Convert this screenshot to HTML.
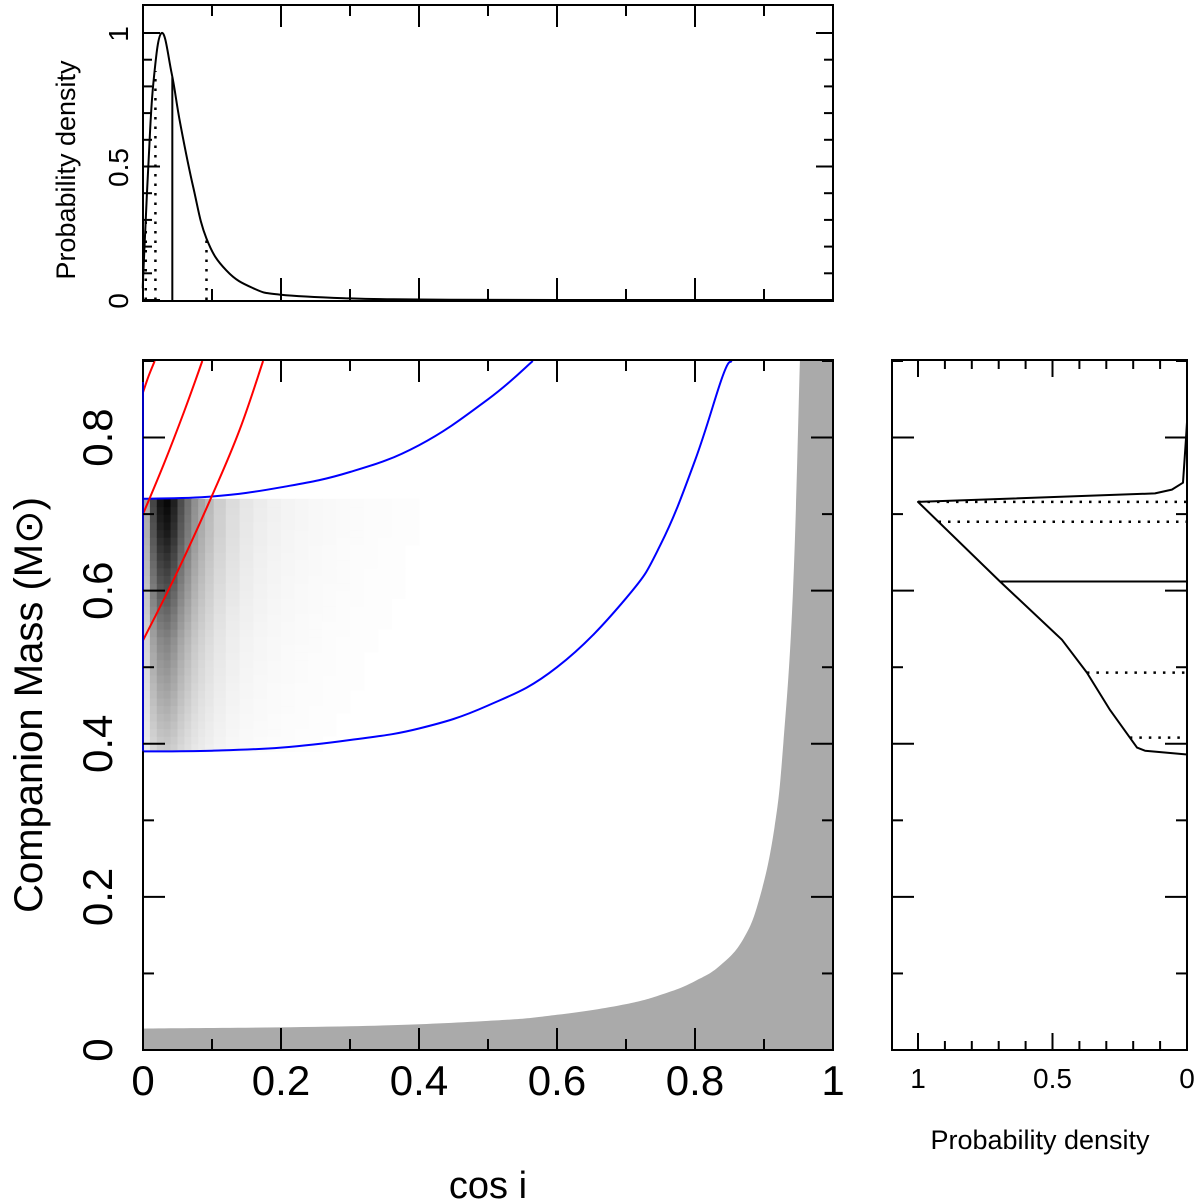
<!DOCTYPE html>
<html><head><meta charset="utf-8"><style>
body{margin:0;background:#fff}
svg{display:block;font-family:"Liberation Sans","DejaVu Sans",sans-serif}
</style></head><body>
<svg id="c" width="1200" height="1204" viewBox="0 0 1200 1204"></svg>
<script>
// ---- data ----
const topPdfC = [0,0.0005,0.0077,0.015,0.027,0.0415,0.054,0.073,0.092,0.121,0.16,0.2,0.3,0.4,0.6,1.0];
const topPdfD = [0.05,0.1,0.5,0.81,1.0,0.85,0.66,0.42,0.23,0.11,0.044,0.02,0.006,0.002,0,0];
const topMedian = 0.0425;
const topDotted = [0.004,0.018,0.092];
const sideMass = [0.386,0.391,0.395,0.444,0.493,0.536,0.612,0.716,0.727,0.732,0.741,0.797,0.82,0.9];
const sideDens = [0.0,0.156,0.186,0.286,0.372,0.465,0.695,1.0,0.119,0.056,0.015,0.004,0,0];
const sideMedian = 0.612;
const sideDotted = [0.716,0.69,0.493,0.408];
const blueLowC = [0,0.1,0.2,0.3,0.4,0.5,0.6,0.7,0.75,0.8,0.84,0.853];
const blueLowM = [0.39,0.391,0.395,0.405,0.42,0.45,0.50,0.59,0.66,0.77,0.88,0.9];
const blueUpC = [0,0.1,0.2,0.3,0.4,0.5,0.565];
const blueUpM = [0.72,0.723,0.735,0.755,0.79,0.85,0.9];
const red1C = [0,0.008,0.017], red1M = [0.859,0.88,0.9];
const red2C = [0,0.03,0.06,0.086], red2M = [0.70,0.765,0.835,0.9];
const red3C = [0,0.05,0.1,0.14,0.174], red3M = [0.535,0.625,0.724,0.81,0.9];
const greyC = [0,0.3,0.5,0.6,0.7,0.76,0.8,0.836,0.87,0.894,0.915,0.928,0.942,0.952];
const greyM = [0.028,0.031,0.038,0.046,0.06,0.075,0.09,0.11,0.145,0.2,0.29,0.4,0.6,0.9];
const xTickLabels = ["0","0.2","0.4","0.6","0.8","1"];
const yTickLabels = ["0","0.2","0.4","0.6","0.8"];
// heatmap profiles
const heatC = [0.005,0.015,0.025,0.035,0.045,0.055,0.065,0.075,0.085,0.095,0.11,0.13,0.15,0.17,0.19,0.21,0.23,0.25,0.27,0.29,0.31,0.33,0.35,0.37,0.39,0.41,0.43];
const heatCw = [0.35,0.75,0.95,1.0,0.9,0.72,0.58,0.45,0.36,0.28,0.2,0.14,0.1,0.075,0.058,0.046,0.037,0.03,0.025,0.02,0.016,0.013,0.011,0.009,0.007,0.005,0.004];
const heatM = [0.395,0.405,0.415,0.425,0.435,0.445,0.455,0.465,0.475,0.485,0.495,0.505,0.515,0.525,0.535,0.545,0.555,0.565,0.575,0.585,0.595,0.605,0.615,0.625,0.635,0.645,0.655,0.665,0.675,0.685,0.695,0.705,0.715];
const heatMw = [0.22,0.24,0.26,0.28,0.3,0.32,0.34,0.36,0.38,0.4,0.42,0.44,0.46,0.48,0.5,0.53,0.56,0.59,0.62,0.65,0.68,0.71,0.74,0.77,0.8,0.83,0.86,0.89,0.92,0.94,0.96,0.98,1.0];

// ---- geometry ----
const NS="http://www.w3.org/2000/svg", svg=document.getElementById('c');
const MX0=143,MX1=833,MY0=1050,MY1=361,MTOP=360;
const mx=c=>MX0+(MX1-MX0)*c, my=m=>MY0+(MY1-MY0)*m/0.9;
const TY0=300,TY1=33; const ty=d=>TY0+(TY1-TY0)*d;
const RX0=1187,RX1=918; const rx=d=>RX0+(RX1-RX0)*d;
function el(t,a,p){const e=document.createElementNS(NS,t);for(const k in a)e.setAttribute(k,a[k]);(p||svg).appendChild(e);return e;}
function smooth(xs,ys,fx,fy){
  const P=xs.map((v,i)=>[fx(v),fy(ys[i])]);
  let d=`M${P[0][0].toFixed(1)},${P[0][1].toFixed(1)}`;
  for(let i=0;i<P.length-1;i++){
    const p0=P[i-1]||P[i],p1=P[i],p2=P[i+1],p3=P[i+2]||P[i+1];
    const t=0.2;
    const c1=[p1[0]+(p2[0]-p0[0])*t,p1[1]+(p2[1]-p0[1])*t];
    const c2=[p2[0]-(p3[0]-p1[0])*t,p2[1]-(p3[1]-p1[1])*t];
    d+=` C${c1[0].toFixed(1)},${c1[1].toFixed(1)} ${c2[0].toFixed(1)},${c2[1].toFixed(1)} ${p2[0].toFixed(1)},${p2[1].toFixed(1)}`;
  }
  return d;
}
function interp(xs,ys,x){for(let i=1;i<xs.length;i++){if(x<=xs[i]){const t=(x-xs[i-1])/(xs[i]-xs[i-1]);return ys[i-1]+t*(ys[i]-ys[i-1]);}}return ys[ys.length-1];}

const clip=el('clipPath',{id:'mclip'},el('defs',{}));
el('rect',{x:MX0,y:MTOP,width:MX1-MX0,height:MY0-MTOP},clip);
const g=el('g',{'clip-path':'url(#mclip)'});



// grey region
const gp=el('path',{d:smooth(greyC,greyM,mx,my)+` L${mx(1)},${my(0.9)} L${mx(1)},${MY0} L${mx(0)},${MY0} Z`,fill:'#aaaaaa'},g);



// heatmap
const hg=el('g',{},g);


heatC.forEach((c,i)=>{
  const x0=i===0?0:(heatC[i-1]+c)/2, x1=i===heatC.length-1?c+0.01:(c+heatC[i+1])/2;
  heatM.forEach((m,j)=>{
    const v=heatCw[i]*heatMw[j];
    const lum=Math.round(255*(1-Math.min(1,v*0.97)));
    if(lum>=254)return;
    const r=el('rect',{x:mx(x0).toFixed(1),y:my(m+0.005).toFixed(1),width:(mx(x1)-mx(x0)+0.6).toFixed(1),height:(my(m-0.005)-my(m+0.005)+0.6).toFixed(1),fill:`rgb(${lum},${lum},${lum})`},hg);
    
    
  });
});

function line(xs,ys,col,name,parent,fx,fy){
  const p=el('path',{d:smooth(xs,ys,fx,fy),fill:'none',stroke:col,'stroke-width':2,'stroke-linejoin':'round'},parent);
  
  
  return p;
}
function pline(xs,ys,col,name,parent,fx,fy){
  const p=el('polyline',{points:xs.map((v,i)=>fx(v).toFixed(1)+','+fy(ys[i]).toFixed(1)).join(' '),fill:'none',stroke:col,'stroke-width':2,'stroke-linejoin':'round'},parent);
  
  
  return p;
}
line(blueLowC,blueLowM,'#0000ff','blue-curve-lower',g,mx,my);
line(blueUpC,blueUpM,'#0000ff','blue-curve-upper',g,mx,my);
line(red1C,red1M,'#ff0000','red-curve-1',g,mx,my);
line(red2C,red2M,'#ff0000','red-curve-2',g,mx,my);
line(red3C,red3M,'#ff0000','red-curve-3',g,mx,my);

// frames & ticks
function frame(x,y,w,h,name){const r=el('rect',{x,y,width:w,height:h,fill:'none',stroke:'#000','stroke-width':2});}
frame(MX0,MTOP,MX1-MX0,MY0-MTOP,'main-frame');
el('line',{x1:MX0,y1:MTOP,x2:MX0,y2:my(0.39),stroke:'#0000ff','stroke-width':1.5});
frame(MX0,5,MX1-MX0,TY0-5+1,'top-frame');
frame(892,MTOP,RX0-892,MY0-MTOP,'right-frame');
function tk(x1,y1,x2,y2){el('line',{x1,y1,x2,y2,stroke:'#000','stroke-width':2});}
for(let i=0;i<=10;i++){const c=i/10,x=mx(c),L=i%2?11:22;
  tk(x,MY0,x,MY0-L);tk(x,MTOP,x,MTOP+L);tk(x,5,x,5+L);tk(x,TY0,x,TY0-L);}
for(let i=0;i<=9;i++){const m=i/10,y=my(m),L=i%2?11:22;
  tk(MX0,y,MX0+L,y);tk(MX1,y,MX1-L,y);tk(892,y,892+L,y);tk(RX0,y,RX0-L,y);}
for(let i=0;i<=10;i++){const y=ty(i/10),L=i%5?9:17;tk(MX0,y,MX0+L,y);tk(MX1,y,MX1-L,y);}
for(let i=0;i<=10;i++){const x=rx(i/10),L=i%5?9:17;tk(x,MTOP,x,MTOP+L);tk(x,MY0,x,MY0-L);}

function txt(s,x,y,size,name,rot,anchor){
  const t=el('text',{x,y,'font-size':size,'text-anchor':anchor||'middle',fill:'#000'});
  if(rot)t.setAttribute('transform',`rotate(-90 ${x} ${y})`);
  t.textContent=s;return t;
}
xTickLabels.forEach((s,i)=>txt(s,mx(i*0.2),1095,42,'x-tick-label'));
yTickLabels.forEach((s,i)=>txt(s,112,my(i*0.2),42,'y-tick-label',true));
txt('cos i',488,1198,38,'x-axis-title');
const yt=txt('Companion Mass (M',42,705,40,'y-axis-title',true);
const sub=el('tspan',{},yt);sub.textContent='⊙';
const sub2=el('tspan',{},yt);sub2.textContent=')';
['0','0.5','1'].forEach((s,i)=>txt(s,128,ty(i*0.5)+1,28,'top-y-tick-label',true));
txt('Probability density',75,170,27,'top-y-axis-title',true);
['1','0.5','0'].forEach((s,i)=>txt(s,rx(1-i*0.5),1088,28,'right-x-tick-label'));
txt('Probability density',1040,1149,27,'right-x-axis-title');

// top pdf
const tg=el('g',{});
line(topPdfC,topPdfD,'#000','cos-i-pdf',tg,mx,ty);
const mh=interp(topPdfC,topPdfD,topMedian);
const ml=el('line',{x1:mx(topMedian),y1:TY0,x2:mx(topMedian),y2:ty(mh),stroke:'#000','stroke-width':2},tg);

topDotted.forEach(c=>{const d=interp(topPdfC,topPdfD,c);
  const l=el('line',{x1:mx(c),y1:TY0,x2:mx(c),y2:ty(d),stroke:'#000','stroke-width':2.5,'stroke-dasharray':'2.5,7'},tg);
  });

// right pdf
const rg=el('g',{});
pline(sideDens,sideMass,'#000','mass-pdf',rg,rx,my);
function lowerD(m){const k=sideMass.indexOf(0.716);return interp(sideMass.slice(0,k+1),sideDens.slice(0,k+1),m);}
const sl=el('line',{x1:rx(lowerD(sideMedian)),y1:my(sideMedian),x2:RX0,y2:my(sideMedian),stroke:'#000','stroke-width':2},rg);

sideDotted.forEach(m=>{
  const l=el('line',{x1:rx(lowerD(m)),y1:my(m),x2:RX0,y2:my(m),stroke:'#000','stroke-width':2.5,'stroke-dasharray':'2.5,7'},rg);
  });
</script>
</body></html>
